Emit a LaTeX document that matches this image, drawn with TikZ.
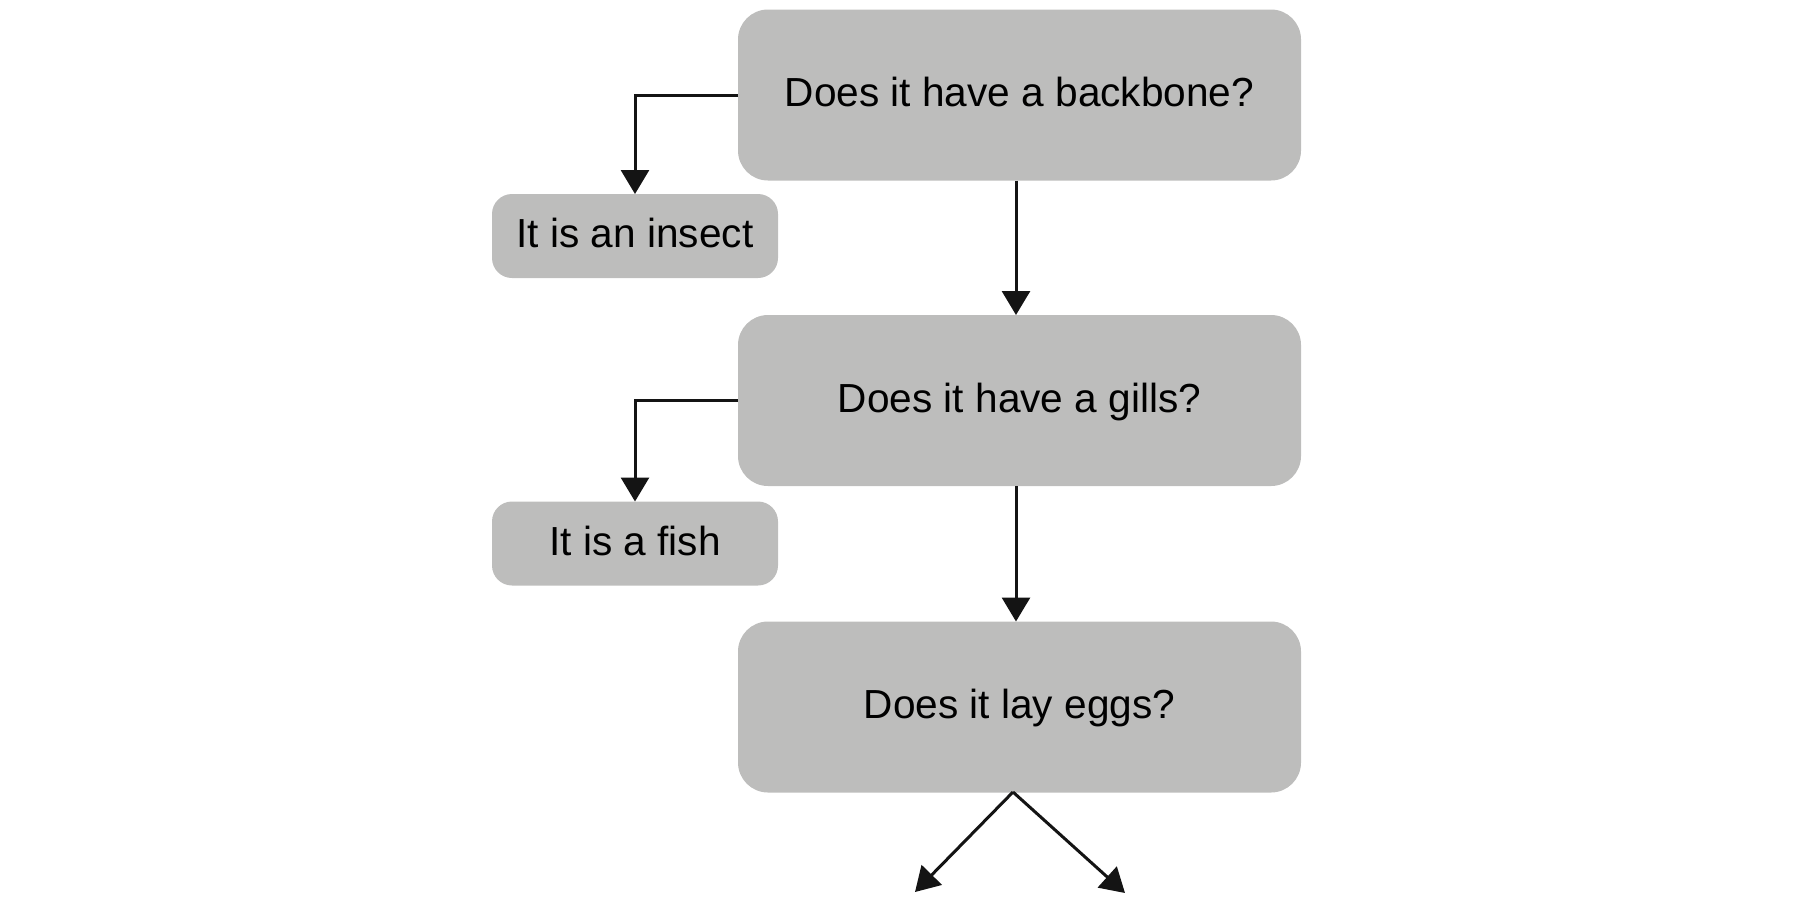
\documentclass[tikz,border=0pt]{standalone}
\usepackage{fontspec}
\setmainfont{Liberation Sans}
\usetikzlibrary{arrows.meta}
\definecolor{boxgray}{RGB}{189,189,188}
\definecolor{inkblack}{RGB}{20,20,20}
\begin{document}
\begin{tikzpicture}[x=0.5pt,y=-0.5pt,
  every node/.style={inner sep=0pt,outer sep=0pt,font=\fontsize{20.3pt}{24pt}\selectfont,
    text height=14.5pt,text depth=2.6pt},
  bigbox/.style={fill=boxgray,rounded corners=15pt,minimum width=281.5pt,minimum height=85.5pt},
  smallbox/.style={fill=boxgray,rounded corners=10pt,minimum width=143pt,minimum height=42pt},
  conn/.style={draw=inkblack,line width=1.5pt,-{Triangle[width=14pt,length=12pt]}}]
\useasboundingbox (0,0) rectangle (1800,907);
\node[bigbox] (q1) at (1019.5,95) {Does it have a backbone?};
\node[bigbox] (q2) at (1019.5,400.5) {Does it have a gills?};
\node[bigbox] (q3) at (1019.5,707) {Does it lay eggs?};
\node[smallbox] (insect) at (635,236) {It is an insect};
\node[smallbox] (fish) at (635,543.5) {It is a fish};
\coordinate (apex) at (1013,792);
\coordinate (leftend) at (915,892);
\coordinate (rightend) at (1125,893);
\draw[conn] (q1.west) -| (insect.north);
\draw[conn] (q2.west) -| (fish.north);
\draw[conn] ([xshift=-1.75pt]q1.south) -- ([xshift=-1.75pt]q2.north);
\draw[conn] ([xshift=-1.75pt]q2.south) -- ([xshift=-1.75pt]q3.north);
\draw[conn] (apex) -- (leftend);
\draw[conn] (apex) -- (rightend);
\end{tikzpicture}
\end{document}
